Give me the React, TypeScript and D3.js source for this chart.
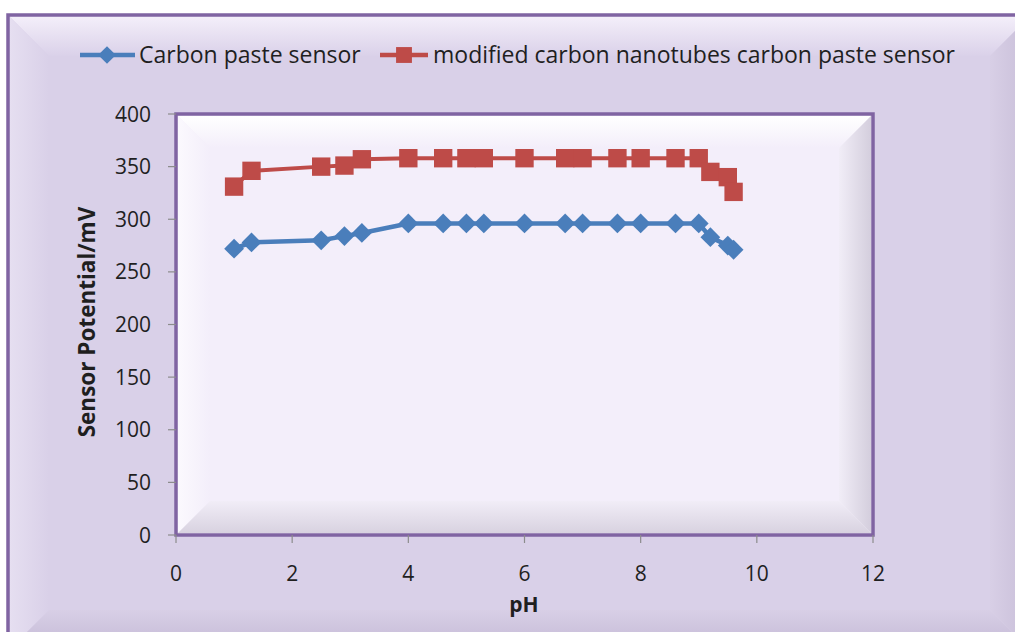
import React from "react";
import * as d3 from "d3";

const phValues = [1, 1.3, 2.5, 2.9, 3.2, 4, 4.6, 5, 5.3, 6, 6.7, 7, 7.6, 8, 8.6, 9, 9.2, 9.5, 9.6];
const carbonPaste = [272, 278, 280, 284, 287, 296, 296, 296, 296, 296, 296, 296, 296, 296, 296, 296, 283, 275, 271];
const modifiedCNT = [331, 346, 350, 351, 357, 358, 358, 358, 358, 358, 358, 358, 358, 358, 358, 358, 345, 340, 326];
const xTicks = [0, 2, 4, 6, 8, 10, 12];
const yTicks = [0, 50, 100, 150, 200, 250, 300, 350, 400];
const seriesNames = ["Carbon paste sensor", "modified carbon nanotubes carbon paste sensor"];

const W = 1015;
const H = 632;
const plot = { left: 176, top: 114, right: 873, bottom: 535 };
const BLUE = "#4A7EBB";
const RED = "#BE4B48";
const PURPLE = "#8064A2";
const FONT = "'Open Sans', 'Noto Sans', sans-serif";

export default function App() {
  const x = d3.scaleLinear().domain([0, 12]).range([plot.left, plot.right]);
  const y = d3.scaleLinear().domain([0, 400]).range([plot.bottom, plot.top]);
  const line = d3
    .line<[number, number]>()
    .x((d) => x(d[0]))
    .y((d) => y(d[1]));
  const blueData: [number, number][] = phValues.map((p, i) => [p, carbonPaste[i]]);
  const redData: [number, number][] = phValues.map((p, i) => [p, modifiedCNT[i]]);
  const diamond = d3.symbol().type(d3.symbolDiamond2).size(250)() as string;
  const square = d3.symbol().type(d3.symbolSquare2).size(430)() as string;

  const pL = plot.left + 2, pT = plot.top + 2, pR = plot.right - 2, pB = plot.bottom - 2;
  const bv = 32;
  const oL = 9, oT = 16, oR = 1030, oB = 650, ob = 40;

  return (
    <svg width={W} height={H} style={{ position: "absolute", left: 0, top: 0 }} fontFamily={FONT}>
      <defs>
        <linearGradient id="outerTop" x1="0" y1="0" x2="0" y2="1">
          <stop offset="0" stopColor="#F4EFFA" />
          <stop offset="1" stopColor="#DAD1E9" />
        </linearGradient>
        <linearGradient id="outerLeft" x1="0" y1="0" x2="1" y2="0">
          <stop offset="0" stopColor="#E6DFF1" />
          <stop offset="1" stopColor="#D9D0E8" />
        </linearGradient>
        <linearGradient id="outerBottom" x1="0" y1="0" x2="0" y2="1">
          <stop offset="0" stopColor="#D8CFE6" />
          <stop offset="1" stopColor="#C4B9D5" />
        </linearGradient>
        <linearGradient id="outerRight" x1="0" y1="0" x2="1" y2="0">
          <stop offset="0" stopColor="#D8CFE6" />
          <stop offset="1" stopColor="#C8BED8" />
        </linearGradient>
        <linearGradient id="inTop" x1="0" y1="0" x2="0" y2="1">
          <stop offset="0" stopColor="#FFFFFF" />
          <stop offset="1" stopColor="#F3EEFA" />
        </linearGradient>
        <linearGradient id="inLeft" x1="0" y1="0" x2="1" y2="0">
          <stop offset="0" stopColor="#FBF9FE" />
          <stop offset="1" stopColor="#F3EEFA" />
        </linearGradient>
        <linearGradient id="inBottom" x1="0" y1="0" x2="0" y2="1">
          <stop offset="0" stopColor="#F1EDF7" />
          <stop offset="1" stopColor="#D8D2E0" />
        </linearGradient>
        <linearGradient id="inRight" x1="0" y1="0" x2="1" y2="0">
          <stop offset="0" stopColor="#F1EDF7" />
          <stop offset="1" stopColor="#D4CEDD" />
        </linearGradient>
      </defs>

      {/* outer chart area */}
      <rect x={0} y={0} width={W} height={H} fill="#FFFFFF" />
      <rect x={oL} y={oT} width={oR - oL} height={oB - oT} fill="#D9D0E8" />
      <polygon points={`${oL},${oT} ${oR},${oT} ${oR - ob},${oT + ob} ${oL + ob},${oT + ob}`} fill="url(#outerTop)" />
      <polygon points={`${oL},${oT} ${oL + ob},${oT + ob} ${oL + ob},${oB - ob} ${oL},${oB}`} fill="url(#outerLeft)" />
      <polygon points={`${oL},${oB} ${oL + ob},${oB - ob} ${oR - ob},${oB - ob} ${oR},${oB}`} fill="url(#outerBottom)" />
      <polygon points={`${oR},${oT} ${oR},${oB} ${oR - ob},${oB - ob} ${oR - ob},${oT + ob}`} fill="url(#outerRight)" />
      <rect x={oL - 1} y={oT - 1} width={oR - oL + 2} height={oB - oT + 2} fill="none" stroke={PURPLE} strokeWidth={3.5} />

      {/* plot area */}
      <rect x={plot.left} y={plot.top} width={plot.right - plot.left} height={plot.bottom - plot.top} fill="#F3EEFA" />
      <polygon points={`${pL},${pT} ${pR},${pT} ${pR - bv},${pT + bv} ${pL + bv},${pT + bv}`} fill="url(#inTop)" />
      <polygon points={`${pL},${pT} ${pL + bv},${pT + bv} ${pL + bv},${pB - bv} ${pL},${pB}`} fill="url(#inLeft)" />
      <polygon points={`${pL},${pB} ${pL + bv},${pB - bv} ${pR - bv},${pB - bv} ${pR},${pB}`} fill="url(#inBottom)" />
      <polygon points={`${pR},${pT} ${pR},${pB} ${pR - bv},${pB - bv} ${pR - bv},${pT + bv}`} fill="url(#inRight)" />
      <rect x={plot.left} y={plot.top} width={plot.right - plot.left} height={plot.bottom - plot.top} fill="none" stroke={PURPLE} strokeWidth={3.5} />

      {/* y axis */}
      {yTicks.map((t) => (
        <g key={"y" + t}>
          <line x1={plot.left - 8} x2={plot.left} y1={y(t)} y2={y(t)} stroke="#8C8C8C" strokeWidth={1.2} />
          <text x={plot.left - 25} y={y(t)} dy="0.36em" textAnchor="end" fontSize={21} fill="#1F1F1F">{t}</text>
        </g>
      ))}
      {/* x axis */}
      {xTicks.map((t) => (
        <g key={"x" + t}>
          <line x1={x(t)} x2={x(t)} y1={plot.bottom} y2={plot.bottom + 8} stroke="#8C8C8C" strokeWidth={1.2} />
          <text x={x(t)} y={573} dy="0.36em" textAnchor="middle" fontSize={21} fill="#1F1F1F">{t}</text>
        </g>
      ))}
      <text x={524} y={612} textAnchor="middle" fontSize={21} fontWeight="bold" fill="#1F1F1F">pH</text>
      <text transform={`translate(95,322) rotate(-90)`} textAnchor="middle" fontSize={22.5} fontWeight="bold" fill="#1F1F1F">Sensor Potential/mV</text>

      {/* series */}
      <path d={line(blueData) as string} fill="none" stroke={BLUE} strokeWidth={4.5} strokeLinejoin="round" />
      {blueData.map((d, i) => (
        <path key={"b" + i} d={diamond} transform={`translate(${x(d[0])},${y(d[1])})`} fill={BLUE} />
      ))}
      <path d={line(redData) as string} fill="none" stroke={RED} strokeWidth={4} strokeLinejoin="round" />
      {redData.map((d, i) => (
        <path key={"r" + i} d={square} transform={`translate(${x(d[0])},${y(d[1])})`} fill={RED} />
      ))}

      {/* legend */}
      <g>
        <line x1={80} x2={135} y1={55} y2={55} stroke={BLUE} strokeWidth={4.5} />
        <path d={d3.symbol().type(d3.symbolDiamond2).size(200)() as string} transform="translate(107,55)" fill={BLUE} />
        <text x={139} y={55} dy="0.36em" fontSize={23} fill="#1F1F1F">{seriesNames[0]}</text>
        <line x1={380} x2={428} y1={55} y2={55} stroke={RED} strokeWidth={4.5} />
        <path d={d3.symbol().type(d3.symbolSquare2).size(320)() as string} transform="translate(404,55)" fill={RED} />
        <text x={433} y={55} dy="0.36em" fontSize={23} fill="#1F1F1F">{seriesNames[1]}</text>
      </g>
    </svg>
  );
}
